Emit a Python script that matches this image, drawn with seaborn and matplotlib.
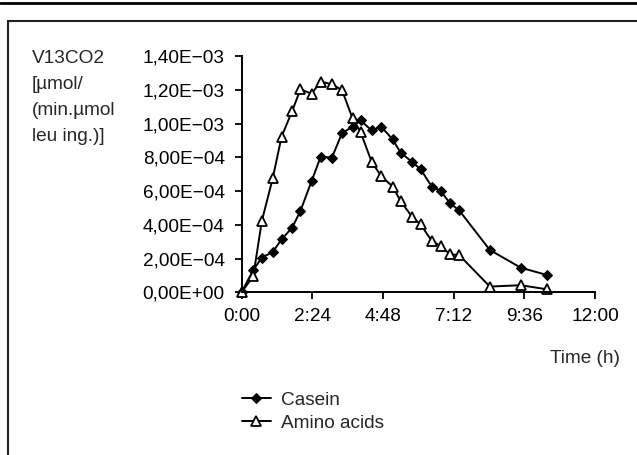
import numpy as np
import pandas as pd
import matplotlib
matplotlib.use("Agg")
import matplotlib.pyplot as plt
from matplotlib.lines import Line2D
import seaborn as sns

# sampling times (h) and V13CO2 values (x 1e-4)
time_h = [0, 0.40, 0.69, 1.06, 1.36, 1.72, 2.00, 2.38, 2.69, 3.07, 3.41, 3.77, 4.04,
          4.42, 4.74, 5.13, 5.40, 5.79, 6.08, 6.46, 6.76, 7.08, 7.39, 8.43, 9.48, 10.36]
casein = [0, 1.32, 2.06, 2.39, 3.14, 3.84, 4.82, 6.60, 8.05, 7.99, 9.43, 9.83, 10.2,
          9.60, 9.83, 9.07, 8.29, 7.73, 7.30, 6.27, 6.01, 5.28, 4.86, 2.51, 1.46, 1.03]
amino_acids = [0, 0.95, 4.23, 6.76, 9.23, 10.75, 12.04, 11.78, 12.50, 12.34, 12.0, 10.32, 9.51,
               7.73, 6.90, 6.27, 5.42, 4.47, 4.03, 3.04, 2.75, 2.25, 2.21, 0.34, 0.42, 0.18]
x_ticks = [0, 2.4, 4.8, 7.2, 9.6, 12.0]
y_ticks = [0, 2e-4, 4e-4, 6e-4, 8e-4, 10e-4, 12e-4, 14e-4]
ylabel_lines = ["V13CO2", "[µmol/", "(min.µmol", "leu ing.)]"]

df = pd.DataFrame({
    "time": time_h,
    "Casein": np.array(casein) * 1e-4,
    "Amino acids": np.array(amino_acids) * 1e-4,
})

sns.set_style("ticks")
plt.rcParams["font.family"] = ["Liberation Sans", "DejaVu Sans"]
plt.rcParams["font.size"] = 13.7

fig = plt.figure(figsize=(6.37, 4.55), dpi=100)
ax = fig.add_axes([241.5 / 637, 1 - 292.3 / 455, (595 - 241.5) / 637, (292.3 - 56.3) / 455])

sns.lineplot(data=df, x="time", y="Casein", ax=ax, color="black", lw=1.4,
             marker="D", markersize=5.5, markerfacecolor="black", markeredgecolor="black",
             sort=False, estimator=None, clip_on=False, label="Casein")
sns.lineplot(data=df, x="time", y="Amino acids", ax=ax, color="black", lw=1.4,
             marker="^", markersize=7.5, markerfacecolor="white", markeredgecolor="black",
             markeredgewidth=1.3, sort=False, estimator=None, clip_on=False, label="Amino acids")

ax.set_xlim(0, 12)
ax.set_ylim(0, 1.4e-3)
ax.set_xticks(x_ticks)
ax.set_xticklabels([f"{int(h)}:{round((h % 1) * 60):02d}" for h in x_ticks])
ax.set_yticks(y_ticks)
ax.set_yticklabels([f"{v:.2E}".replace(".", ",").replace("-", "\u2212") for v in y_ticks])
ax.set_xlabel("")
ax.set_ylabel("")
ax.tick_params(axis="both", length=5, width=1.3, color="black", labelcolor="black")
ax.tick_params(axis="x", pad=6.5)
ax.tick_params(axis="y", pad=7)
sns.despine(ax=ax)
for side in ["left", "bottom"]:
    ax.spines[side].set_linewidth(1.4)
    ax.spines[side].set_color("black")

# multi-line y label at the top left
for i, line in enumerate(ylabel_lines):
    fig.text(31.7 / 637, 1 - (63.3 + 26 * i) / 455, line, ha="left", va="baseline")

fig.text(620 / 637, 1 - 362.7 / 455, "Time (h)", ha="right", va="baseline")

ax.get_legend().remove()
handles, labels = ax.get_legend_handles_labels()
fig.legend(handles, labels, loc="center left", bbox_to_anchor=(241.7 / 637, 1 - 411.7 / 455),
           bbox_transform=fig.transFigure, frameon=False, borderpad=0, borderaxespad=0,
           handlelength=1.55, handletextpad=0.5, labelspacing=0.3, numpoints=1)

# page rule and frame
fig.add_artist(Line2D([0, 1], [1 - 2.8 / 455] * 2, transform=fig.transFigure, color="black", lw=2))
fig.add_artist(Line2D([8 / 637, 1], [1 - 21 / 455] * 2, transform=fig.transFigure, color="#222222", lw=1.5))
fig.add_artist(Line2D([8 / 637] * 2, [0, 1 - 21 / 455], transform=fig.transFigure, color="#222222", lw=1.5))

fig.savefig("out.png", dpi=100)
